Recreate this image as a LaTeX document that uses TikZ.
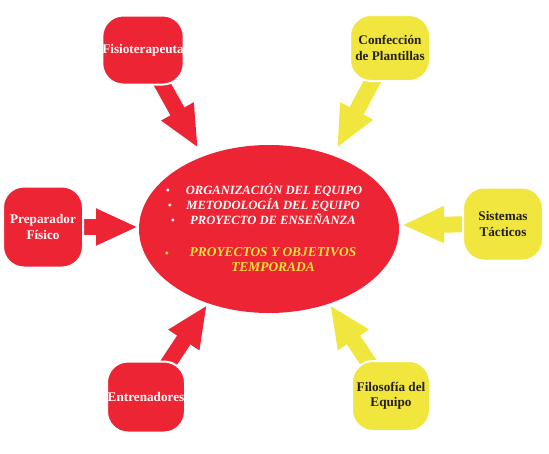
\documentclass[tikz,border=0pt]{standalone}
\usepackage{fontspec}
\setmainfont{Liberation Serif}
\usetikzlibrary{arrows.meta,shapes.geometric}
\definecolor{myred}{RGB}{237,36,52}
\definecolor{myyellow}{RGB}{240,230,62}
\definecolor{darktext}{RGB}{35,31,32}
\tikzset{
  box/.style={rounded corners=21pt, draw=white, line width=2pt, minimum width=80pt, align=center,
    font=\bfseries\fontsize{13.2}{15.5}\selectfont, inner sep=0pt},
  redbox/.style={box, fill=myred, text=white},
  yelbox/.style={box, fill=myyellow, text=darktext},
  fat/.style={line width=16pt, -{Triangle[length=42pt,width=34pt]}},
  redarrow/.style={fat, draw=myred},
  yelarrow/.style={fat, draw=myyellow},
  eltext/.style={font=\bfseries\itshape\fontsize{12.6}{15}\selectfont, anchor=base, inner sep=0pt},
  bul/.style={font=\fontsize{12}{12}\selectfont, anchor=base, inner sep=0pt}
}
\begin{document}
\begin{tikzpicture}[x=1pt,y=-1pt]
\useasboundingbox (0,0) rectangle (549,453);
% named points
\coordinate (t1) at (198,148);
\coordinate (t2) at (337,148);
\coordinate (t3) at (138,227);
\coordinate (t4) at (402,225);
\coordinate (t5) at (207,305);
\coordinate (t6) at (330,305);
\coordinate (c1) at (143,50);
\coordinate (c2) at (390,48);
\coordinate (c3) at (43,227);
\coordinate (c4) at (503,224);
\coordinate (c5) at (146,397);
\coordinate (c6) at (391,396);
% ellipse
\node[ellipse, fill=myred, minimum width=260pt, minimum height=168pt, inner sep=0pt] (ell) at (269,229) {};
% arrows
\draw[redarrow] (c1) -- (t1);
\draw[yelarrow] (c2) -- (t2);
\draw[redarrow] (c3) -- (t3);
\draw[yelarrow] (c4) -- (t4);
\draw[redarrow] (c5) -- (t5);
\draw[yelarrow] (c6) -- (t6);
% boxes
\node[redbox, minimum width=80pt, minimum height=69pt] (fis) at (c1) {Fisioterapeuta};
\node[yelbox, minimum width=80pt, minimum height=66pt] (conf) at (c2) {Confección\\de Plantillas};
\node[redbox, minimum width=80pt, minimum height=81pt] (prep) at (c3) {Preparador\\Físico};
\node[yelbox, minimum width=80pt, minimum height=73pt] (sis) at (c4) {Sistemas\\Tácticos};
\node[redbox, minimum width=78pt, minimum height=71pt] (ent) at (c5) {Entrenadores};
\node[yelbox, minimum width=78pt, minimum height=70pt] (fil) at (c6) {Filosofía del\\Equipo};
% ellipse text
\node[eltext, text=white] (l1) at (274,194) {ORGANIZACIÓN DEL EQUIPO};
\node[eltext, text=white] (l2) at (273,209) {METODOLOGÍA DEL EQUIPO};
\node[eltext, text=white] (l3) at (273,224) {PROYECTO DE ENSEÑANZA};
\node[eltext, text=myyellow, font=\bfseries\itshape\fontsize{13.4}{15}\selectfont] (l4) at (273,256) {PROYECTOS Y OBJETIVOS};
\node[eltext, text=myyellow, font=\bfseries\itshape\fontsize{13.4}{15}\selectfont] (l5) at (273,271) {TEMPORADA};
\node[bul, text=white] (b1) at (168,194) {\textbullet};
\node[bul, text=white] (b2) at (170,209) {\textbullet};
\node[bul, text=white] (b3) at (173,224) {\textbullet};
\node[bul, text=myyellow] (b4) at (167,257) {\textbullet};
\end{tikzpicture}
\end{document}
